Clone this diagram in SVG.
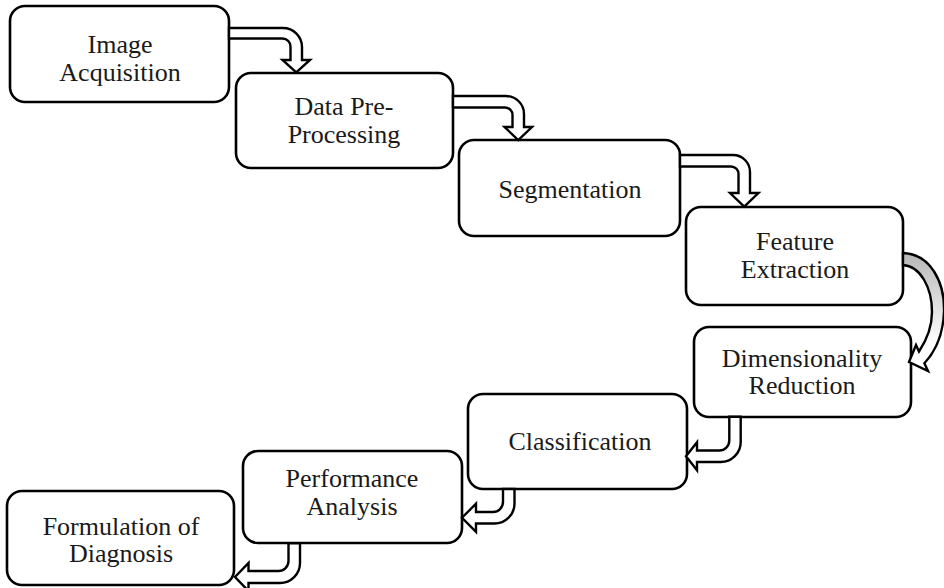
<svg xmlns="http://www.w3.org/2000/svg" width="944" height="588" viewBox="0 0 944 588">
<defs>
<style>
.box{fill:#fff;stroke:#000;stroke-width:2.6}
.lbl{font-family:"Liberation Serif","Times New Roman",serif;font-size:26px;fill:#1a1a1a;text-anchor:middle}
.arr{fill:#fff;stroke:#000;stroke-width:2.4;stroke-linejoin:miter}
</style>
<linearGradient id="gr" gradientUnits="userSpaceOnUse" x1="0" y1="255" x2="0" y2="345">
<stop offset="0" stop-color="#b8b8b8"/>
<stop offset="1" stop-color="#ffffff"/>
</linearGradient>
</defs>
<rect width="944" height="588" fill="#fff"/>
<g id="n1"><rect class="box" x="10" y="6" width="219" height="96" rx="15"/><text class="lbl" x="120" y="53">Image</text><text class="lbl" x="120" y="81">Acquisition</text></g>
<g id="n2"><rect class="box" x="236" y="73" width="217" height="95" rx="15"/><text class="lbl" x="344" y="115">Data Pre-</text><text class="lbl" x="344" y="143">Processing</text></g>
<g id="n3"><rect class="box" x="459" y="140" width="221" height="96" rx="15"/><text class="lbl" x="570" y="198">Segmentation</text></g>
<g id="n4"><rect class="box" x="686" y="207" width="217" height="98" rx="15"/><text class="lbl" x="795" y="250">Feature</text><text class="lbl" x="795" y="278">Extraction</text></g>
<g id="n5"><rect class="box" x="694" y="327" width="217" height="90" rx="15"/><text class="lbl" x="802" y="367">Dimensionality</text><text class="lbl" x="802" y="394">Reduction</text></g>
<g id="n6"><rect class="box" x="468" y="394" width="219" height="95" rx="15"/><text class="lbl" x="580" y="450">Classification</text></g>
<g id="n7"><rect class="box" x="243" y="451" width="219" height="92" rx="15"/><text class="lbl" x="352" y="487">Performance</text><text class="lbl" x="352" y="515">Analysis</text></g>
<g id="n8"><rect class="box" x="7" y="491" width="227" height="94" rx="15"/><text class="lbl" x="121" y="535">Formulation of</text><text class="lbl" x="121" y="562">Diagnosis</text></g>
<g id="connectors">
<path class="arr" d="M229,28 H283 A19,19 0 0 1 302,47 V60 H310 L296.25,72.5 L282.5,60 H290.5 V46.5 A8,8 0 0 0 282.5,38.5 H229 Z"/>
<path class="arr" d="M453,96 H506 A18,18 0 0 1 524,114 V127 H532 L518.25,140 L504.5,127 H512.5 V115 A7.5,7.5 0 0 0 505,107.5 H453 Z"/>
<path class="arr" d="M680,155 H733 A17,17 0 0 1 750,172 V193 H758.5 L744.25,206.7 L730,193 H738.5 V174 A7.5,7.5 0 0 0 731,166.5 H680 Z"/>
<path class="arr" style="fill:url(#gr)" d="M903,253 C931,254 945,283 944,312 C943,336 935,352 924.4,363.2 L928,371 L909,362 L916,345 L919,351.5 C926,341 932,328 932,312 C932,287 920,266 903,265 Z"/>
<path class="arr" d="M729.3,416.7 V440.5 A10,10 0 0 1 719.3,450.5 H697 V442.25 L686,456.25 L697,470.25 V462 H720.7 A20,20 0 0 0 740.7,442 V416.7 Z"/>
<path class="arr" d="M503,489 V502 A10,10 0 0 1 493,512 H476 V503.75 L462,517.75 L476,531.75 V523.5 H494.5 A20,20 0 0 0 514.5,503.5 V489 Z"/>
<path class="arr" d="M288.5,543.3 V561 A10,10 0 0 1 278.5,571 H248.5 V563 L235,577 L248.5,591 V583 H280 A20,20 0 0 0 300,563 V543.3 Z"/>
</g>
</svg>
